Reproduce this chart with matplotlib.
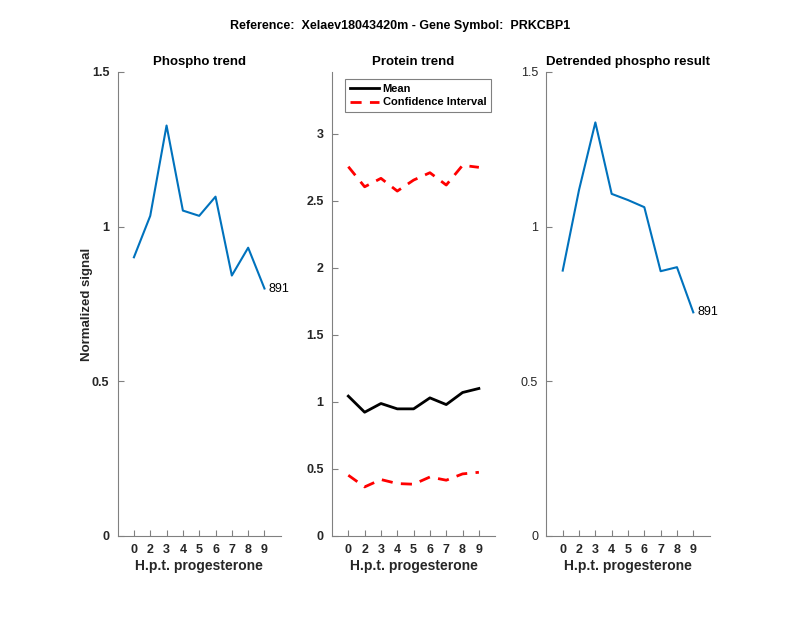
import numpy as np
import matplotlib
matplotlib.use('Agg')
import matplotlib.pyplot as plt

plt.rcParams['font.family'] = ['Liberation Sans', 'DejaVu Sans']

# --- data ---
hours = ['0', '2', '3', '4', '5', '6', '7', '8', '9']
phospho = [0.901, 1.035, 1.327, 1.052, 1.035, 1.097, 0.842, 0.932, 0.800]
protein_mean = [1.043, 0.923, 0.988, 0.948, 0.948, 1.030, 0.980, 1.070, 1.100]
protein_upper = [2.754, 2.604, 2.667, 2.572, 2.654, 2.709, 2.617, 2.764, 2.749]
protein_lower = [0.453, 0.366, 0.421, 0.391, 0.386, 0.440, 0.416, 0.463, 0.475]
detrended = [0.858, 1.119, 1.337, 1.106, 1.086, 1.063, 0.856, 0.869, 0.723]
peptide_id = '891'

title_text = 'Reference:  Xelaev18043420m - Gene Symbol:  PRKCBP1'
ml_blue = '#0072BD'
axis_grey = '#262626'

fig = plt.figure(figsize=(8, 6.18), dpi=100)
x = np.arange(1, len(hours) + 1)


def style_axes(ax, ylim, yticks, yticklabels, bold_y=True):
    ax.set_xlim(0, len(hours) + 1)
    ax.set_ylim(*ylim)
    ax.set_xticks(x)
    ax.set_xticklabels(hours, fontsize=9, fontweight='bold', color=axis_grey)
    ax.set_yticks(yticks)
    ax.set_yticklabels(yticklabels, fontsize=9,
                       fontweight='bold' if bold_y else 'normal', color=axis_grey)
    for s in ['top', 'right']:
        ax.spines[s].set_visible(False)
    for s in ['left', 'bottom']:
        ax.spines[s].set_color('#808080')
        ax.spines[s].set_linewidth(0.8)
    ax.tick_params(direction='in', length=4, width=0.8, color='#808080', pad=6)
    ax.set_xlabel('H.p.t. progesterone', fontsize=10, fontweight='bold',
                  color=axis_grey, labelpad=2)


# --- Phospho trend ---
ax1 = fig.add_axes([0.147, 0.1327, 0.204, 0.7508])
ax1.plot(x, phospho, color=ml_blue, linewidth=1.5)
ax1.text(x[-1] + 0.25, phospho[-1], peptide_id, fontsize=9, va='center', color='black')
style_axes(ax1, (0, 1.5), [0, 0.5, 1, 1.5], ['0', '0.5', '1', '1.5'])
ax1.set_title('Phospho trend', fontsize=9.5, fontweight='bold', pad=5)
ax1.set_ylabel('Normalized signal', fontsize=9.5, fontweight='bold', color=axis_grey, labelpad=-1)

# --- Protein trend ---
ax2 = fig.add_axes([0.415, 0.1327, 0.204, 0.7508])
ax2.plot(x, protein_mean, color='black', linewidth=2, label='Mean')
ax2.plot(x, protein_upper, color='red', linewidth=2, linestyle=(0, (4, 3)), label='Confidence Interval')
ax2.plot(x, protein_lower, color='red', linewidth=2, linestyle=(0, (4, 3)))
style_axes(ax2, (0, 3.46), [0, 0.5, 1, 1.5, 2, 2.5, 3], ['0', '0.5', '1', '1.5', '2', '2.5', '3'])
ax2.set_title('Protein trend', fontsize=9.5, fontweight='bold', pad=5)
leg = ax2.legend(loc='upper left', bbox_to_anchor=(0.431, 0.872), bbox_transform=fig.transFigure,
                 borderaxespad=0, prop={'weight': 'bold', 'size': 8}, fancybox=False,
                 framealpha=1, edgecolor='#808080', handlelength=2.6, borderpad=0.45,
                 labelspacing=0.3, handletextpad=0.35)
leg.get_frame().set_linewidth(0.8)

# --- Detrended phospho result ---
ax3 = fig.add_axes([0.683, 0.1327, 0.204, 0.7508])
ax3.plot(x, detrended, color=ml_blue, linewidth=1.5)
ax3.text(x[-1] + 0.25, detrended[-1], peptide_id, fontsize=9, va='center', color='black')
style_axes(ax3, (0, 1.5), [0, 0.5, 1, 1.5], ['0', '0.5', '1', '1.5'], bold_y=False)
ax3.set_title('Detrended phospho result', fontsize=9.5, fontweight='bold', pad=5)

fig.text(0.5, 1 - 26 / 618, title_text, ha='center', va='center', fontsize=9, fontweight='bold')

fig.savefig('out.png', dpi=100)
